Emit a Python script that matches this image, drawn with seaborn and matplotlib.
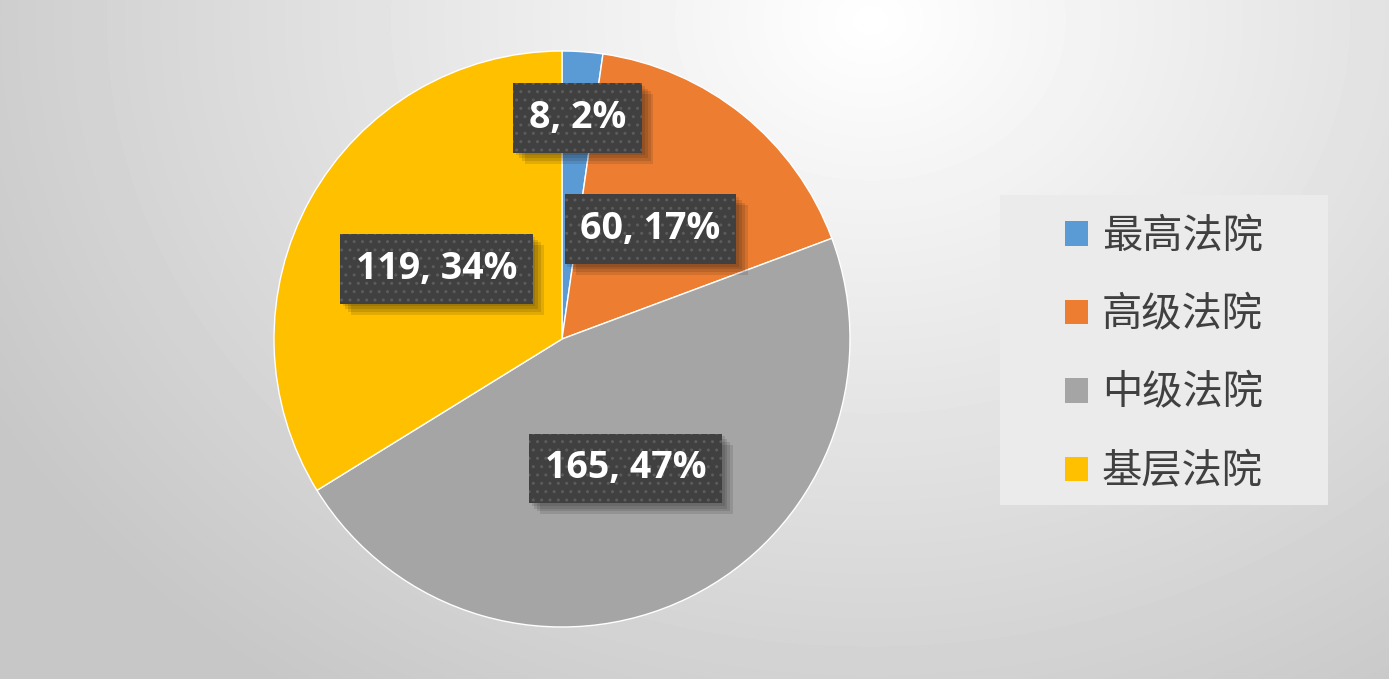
import numpy as np
import seaborn as sns
import matplotlib.pyplot as plt
import matplotlib.patheffects as pe
from matplotlib.patches import Rectangle

# data
courts = ["最高法院", "高级法院", "中级法院", "基层法院"]
counts = [8, 60, 165, 119]
colors = ["#5B9BD5", "#ED7D31", "#A5A5A5", "#FFC000"]
label_dist = [0.77, 0.49, 0.5, 0.5]  # radial position of each data label

sns.set_theme(style="white")
plt.rcParams['font.family'] = ['Noto Sans CJK SC', 'DejaVu Sans']

W, H = 1389, 679
fig = plt.figure(figsize=(W / 100, H / 100), dpi=100)

# soft radial background, light near the top middle, gray at the edges
bg = fig.add_axes([0, 0, 1, 1])
yy, xx = np.mgrid[0:H, 0:W]
d = np.sqrt(((xx - 870) / 1000.0) ** 2 + ((yy - 20) / 820.0) ** 2)
shade = np.clip(1.0 - 0.22 * d, 0.78, 1.0)
bg.imshow(shade, cmap="gray", vmin=0, vmax=1, aspect="auto", interpolation="bilinear")
bg.set_axis_off()

# pie axes: centre (562, 339), radius 288 px
half = 300
ax = fig.add_axes([(562 - half) / W, (H - 339 - half) / H, 2 * half / W, 2 * half / H])
ax.patch.set_alpha(0)
wedges, _ = ax.pie(counts, colors=colors, startangle=90, counterclock=False,
                   wedgeprops=dict(edgecolor="white", linewidth=1))
lim = half / 288
ax.set_xlim(-lim, lim)
ax.set_ylim(-lim, lim)
ax.set_aspect("equal")

# soft shadow built from a few faint offset copies
shadow = [pe.withSimplePatchShadow(offset=(k, -k), alpha=0.12) for k in (8, 6, 4, 2)]
lbl_kw = dict(ha="center", va="center", fontsize=27, fontweight="bold",
              family=["Open Sans", "DejaVu Sans"])

total = sum(counts)
for w, n, r in zip(wedges, counts, label_dist):
    ang = np.deg2rad((w.theta1 + w.theta2) / 2)
    x, y = r * np.cos(ang), r * np.sin(ang)
    s = f"{n}, {round(100 * n / total)}%"
    # plain box that only carries the shadow
    under = ax.text(x, y, s, color="none", zorder=5,
                    bbox=dict(boxstyle="square,pad=0.42", facecolor="#404040",
                              linewidth=0), **lbl_kw)
    under.get_bbox_patch().set_path_effects(shadow + [pe.Normal()])
    # dotted box with the white text on top
    ax.text(x, y, s, color="white", zorder=6,
            bbox=dict(boxstyle="square,pad=0.42", facecolor="#404040",
                      edgecolor="#5c5c5c", linewidth=0, hatch=".."), **lbl_kw)

# legend panel
fig.patches.append(Rectangle((1000 / W, 1 - 505 / H), 328 / W, 310 / H,
                             transform=fig.transFigure, facecolor="#EBEBEB",
                             edgecolor="none", zorder=1))
leg = fig.legend(wedges, courts, loc="center", bbox_to_anchor=(1164 / W, 1 - 354 / H),
                 frameon=False, fontsize=29, handlelength=0.55, handleheight=0.55,
                 handletextpad=0.35, labelspacing=0.93, labelcolor="#404040")
for h in leg.legend_handles:
    h.set_edgecolor("none")

fig.savefig("out.png", dpi=100)
